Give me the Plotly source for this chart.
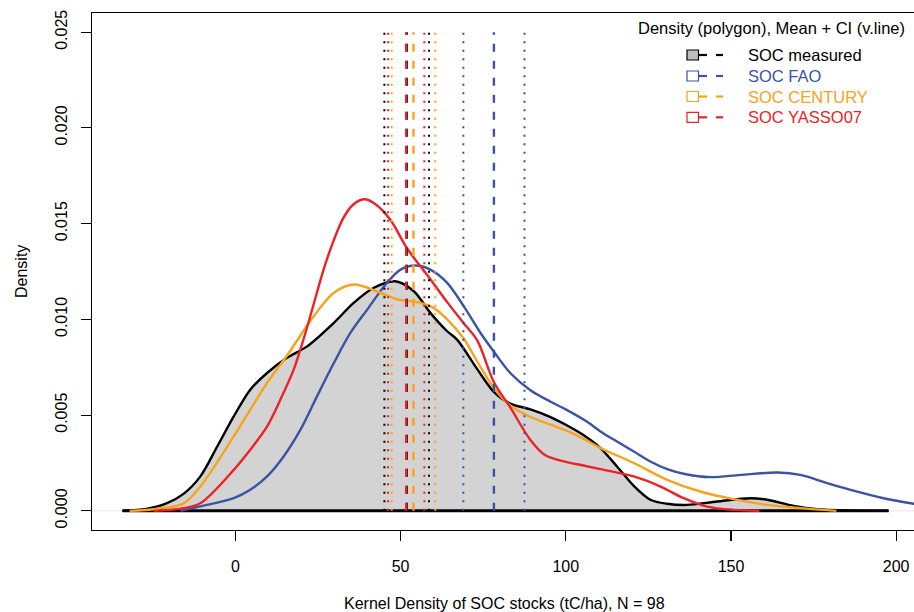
import plotly.graph_objects as go

# ---------------- data ----------------
meas_x = [-34.2, -27.0, -20.7, -15.6, -10.6, -5.5, -0.5, 4.5, 9.6, 15.6, 21.7, 29.8, 35.8, 41.9,
          48.4, 54.0, 59.0, 64.1, 67.1, 73.2, 78.3, 83.2, 89.3, 95.4, 100.0, 105.0, 110.5, 115.5,
          120.6, 125.6, 130.7, 136.7, 145.8, 155.9, 160.9, 169.0, 176.1, 186.0, 197.7]
meas_y = [0.0, 0.0001, 0.0004, 0.0009, 0.0018, 0.00336, 0.00493, 0.00633, 0.0072, 0.00799, 0.00859,
          0.00982, 0.01086, 0.01165, 0.01199, 0.01147, 0.01034, 0.00938, 0.00894, 0.0074, 0.0062,
          0.0056, 0.0053, 0.0049, 0.0045, 0.0040, 0.00328, 0.00232, 0.0013, 0.00058, 0.00037,
          0.00031, 0.00049, 0.00066, 0.00058, 0.00026, 0.00009, 0.00002, 0.0]

fao_x = [-16.6, -10.6, -0.5, 4.5, 9.6, 14.6, 19.7, 24.7, 29.8, 34.8, 39.9, 45.9, 50.0, 54.5, 59.0,
         64.1, 69.1, 74.2, 78.3, 83.2, 89.3, 95.4, 100.0, 106.0, 110.5, 115.5, 120.6, 125.6, 130.7,
         135.7, 143.8, 152.9, 164.0, 171.0, 179.1, 186.2, 196.2, 205.3, 212.0]
fao_y = [0.0, 0.00023, 0.00066, 0.0011, 0.0018, 0.00284, 0.00424, 0.00598, 0.00772, 0.00929, 0.01051,
         0.01191, 0.0126, 0.01281, 0.0126, 0.01191, 0.01069, 0.00929, 0.0083, 0.0072, 0.0063, 0.0057,
         0.0053, 0.0047, 0.00415, 0.00362, 0.0031, 0.00258, 0.00218, 0.00194, 0.00176, 0.00188,
         0.0020, 0.00188, 0.00145, 0.0011, 0.00066, 0.00037, 0.0002]

cent_x = [-32.0, -24.0, -15.6, -10.6, -0.5, 9.6, 15.6, 23.7, 29.8, 35.8, 43.9, 49.0, 55.0, 60.0,
          64.1, 69.1, 73.2, 78.3, 83.2, 89.3, 95.4, 100.0, 105.0, 110.5, 120.6, 130.7, 140.7,
          150.8, 160.9, 171.0, 181.9]
cent_y = [0.0, 0.0001, 0.0004, 0.00127, 0.00389, 0.00668, 0.0081, 0.01016, 0.01139, 0.01182, 0.01139,
          0.01104, 0.0109, 0.0106, 0.0100, 0.0090, 0.0078, 0.0064, 0.0055, 0.0049, 0.0045, 0.0042,
          0.0038, 0.00328, 0.0025, 0.00162, 0.00101, 0.00061, 0.00031, 0.00014, 0.0]

yasso_x = [-24.7, -17.0, -10.6, -0.5, 4.5, 9.6, 13.6, 17.7, 20.7, 23.7, 26.7, 29.7, 32.7, 35.7,
           39.1, 42.5, 46.9, 52.0, 59.0, 64.1, 69.1, 73.2, 78.3, 83.2, 89.3, 93.8, 100.0, 105.0,
           110.5, 120.6, 128.7, 135.7, 142.8, 150.8, 158.6]
yasso_y = [0.0, 0.0001, 0.0004, 0.00214, 0.00319, 0.00441, 0.0058, 0.0074, 0.0090, 0.0108, 0.0126,
           0.0141, 0.0153, 0.0160, 0.01627, 0.0160, 0.0152, 0.0137, 0.0121, 0.0109, 0.0098, 0.0089,
           0.0067, 0.0054, 0.0037, 0.0029, 0.00256, 0.00238, 0.00218, 0.0018, 0.00127, 0.00066,
           0.00022, 0.00005, 0.0]

series_names = ["SOC measured", "SOC FAO", "SOC CENTURY", "SOC YASSO07"]
series_colors = ["#000000", "#3A53A4", "#F9A21B", "#EC2227"]
means = [51.85, 78.25, 53.9, 51.7]
ci_low = [45.1, 69.0, 47.3, 46.2]
ci_high = [58.6, 87.5, 60.5, 57.2]
vline_top = 0.025

x_ticks = [0, 50, 100, 150, 200]
y_ticks = [0.0, 0.005, 0.010, 0.015, 0.020, 0.025]
y_tick_labels = ["0.000", "0.005", "0.010", "0.015", "0.020", "0.025"]

x_title = "Kernel Density of SOC stocks (tC/ha), N = 98"
y_title = "Density"
legend_title = "Density (polygon), Mean + CI (v.line)"

# ---------------- figure ----------------
FONT = "Liberation Sans, Arial, Helvetica, sans-serif"
W, H = 914, 612
L, R, T, B = 92, 0, 13, 82
PW, PH = W - L - R, H - T - B
XR = [-43.4, 205.4]
YR = [-0.001, 0.026]

def px(x):
    return (x - L) / PW

def py(y):
    return (H - B - y) / PH

fig = go.Figure()

# light grey zero line across the plot
fig.add_trace(go.Scatter(x=[XR[0], XR[1]], y=[0, 0], mode="lines",
                         line=dict(color="#E6E6E6", width=1), hoverinfo="skip", showlegend=False))

# measured density polygon
fig.add_trace(go.Scatter(x=meas_x, y=meas_y, mode="lines", fill="tozeroy", fillcolor="#D3D3D3",
                         line=dict(color="black", width=2.4, shape="spline", smoothing=0.9),
                         showlegend=False))
fig.add_trace(go.Scatter(x=[meas_x[0], meas_x[-1]], y=[0, 0], mode="lines",
                         line=dict(color="black", width=3), showlegend=False))

# model densities
for xs, ys, col in [(fao_x, fao_y, series_colors[1]), (cent_x, cent_y, series_colors[2]),
                    (yasso_x, yasso_y, series_colors[3])]:
    fig.add_trace(go.Scatter(x=xs, y=ys, mode="lines",
                             line=dict(color=col, width=2.4, shape="spline", smoothing=0.9),
                             showlegend=False))

# vertical lines: CI (dotted) and mean (dashed)
for i in range(4):
    col = series_colors[i]
    for xv in (ci_low[i], ci_high[i]):
        fig.add_trace(go.Scatter(x=[xv, xv], y=[0, vline_top], mode="lines",
                                 line=dict(color=col, width=2, dash="2px,6.5px"), showlegend=False))
for i in [0, 1, 2, 3]:
    col = series_colors[i]
    fig.add_trace(go.Scatter(x=[means[i], means[i]], y=[0, vline_top], mode="lines",
                             line=dict(color=col, width=2.4, dash="8px,9px"), showlegend=False))

# ---------------- legend (drawn) ----------------
ann = []
shapes = []
ann.append(dict(x=px(771.5), y=py(28.5), xref="paper", yref="paper", text=legend_title,
                showarrow=False, xanchor="center", yanchor="middle",
                font=dict(family=FONT, size=16.5, color="black")))
row_y = [55, 76, 96.5, 117.3]
for i, name in enumerate(series_names):
    yy = row_y[i]
    col = series_colors[i]
    shapes.append(dict(type="rect", xref="paper", yref="paper",
                       x0=px(687), x1=px(698.5), y0=py(yy + 5), y1=py(yy - 5),
                       line=dict(color=col, width=1.2),
                       fillcolor="#BEBEBE" if i == 0 else "white"))
    for a, b in [(698.5, 707), (716, 723)]:
        shapes.append(dict(type="line", xref="paper", yref="paper",
                           x0=px(a), x1=px(b), y0=py(yy), y1=py(yy),
                           line=dict(color=col, width=2.2)))
    ann.append(dict(x=px(745.5), y=py(yy), xref="paper", yref="paper", text=name,
                    showarrow=False, xanchor="left", yanchor="middle",
                    font=dict(family=FONT, size=16.5, color=col)))

# axis titles
ann.append(dict(x=px(504), y=py(603), xref="paper", yref="paper", text=x_title, showarrow=False,
                xanchor="center", yanchor="middle", font=dict(family=FONT, size=16, color="black")))
ann.append(dict(x=px(21.5), y=py(271.5), xref="paper", yref="paper", text=y_title, showarrow=False,
                textangle=-90, xanchor="center", yanchor="middle",
                font=dict(family=FONT, size=16, color="black")))

fig.update_layout(
    width=W, height=H,
    margin=dict(l=L, r=R, t=T, b=B, pad=0),
    paper_bgcolor="white", plot_bgcolor="white",
    font=dict(family=FONT, size=16, color="black"),
    showlegend=False,
    annotations=ann,
    shapes=shapes,
    xaxis=dict(range=XR, tickvals=x_ticks, ticktext=[str(v) for v in x_ticks],
               showgrid=False, zeroline=False, showline=True, linecolor="black", linewidth=1.2,
               mirror=True, ticks="outside", ticklen=10, tickwidth=1.2, tickcolor="black",
               ticklabelstandoff=12, tickfont=dict(family=FONT, size=16, color="black")),
    yaxis=dict(range=YR, tickvals=y_ticks, ticktext=y_tick_labels, tickangle=-90,
               showgrid=False, zeroline=False, showline=True, linecolor="black", linewidth=1.2,
               mirror=False, ticks="outside", ticklen=10, tickwidth=1.2, tickcolor="black",
               ticklabelstandoff=7, tickfont=dict(family=FONT, size=16, color="black")),
)

fig.write_html("out.html", config={"displayModeBar": False, "staticPlot": True},
               post_script="document.body.style.margin='0px';document.body.style.overflow='hidden';")
